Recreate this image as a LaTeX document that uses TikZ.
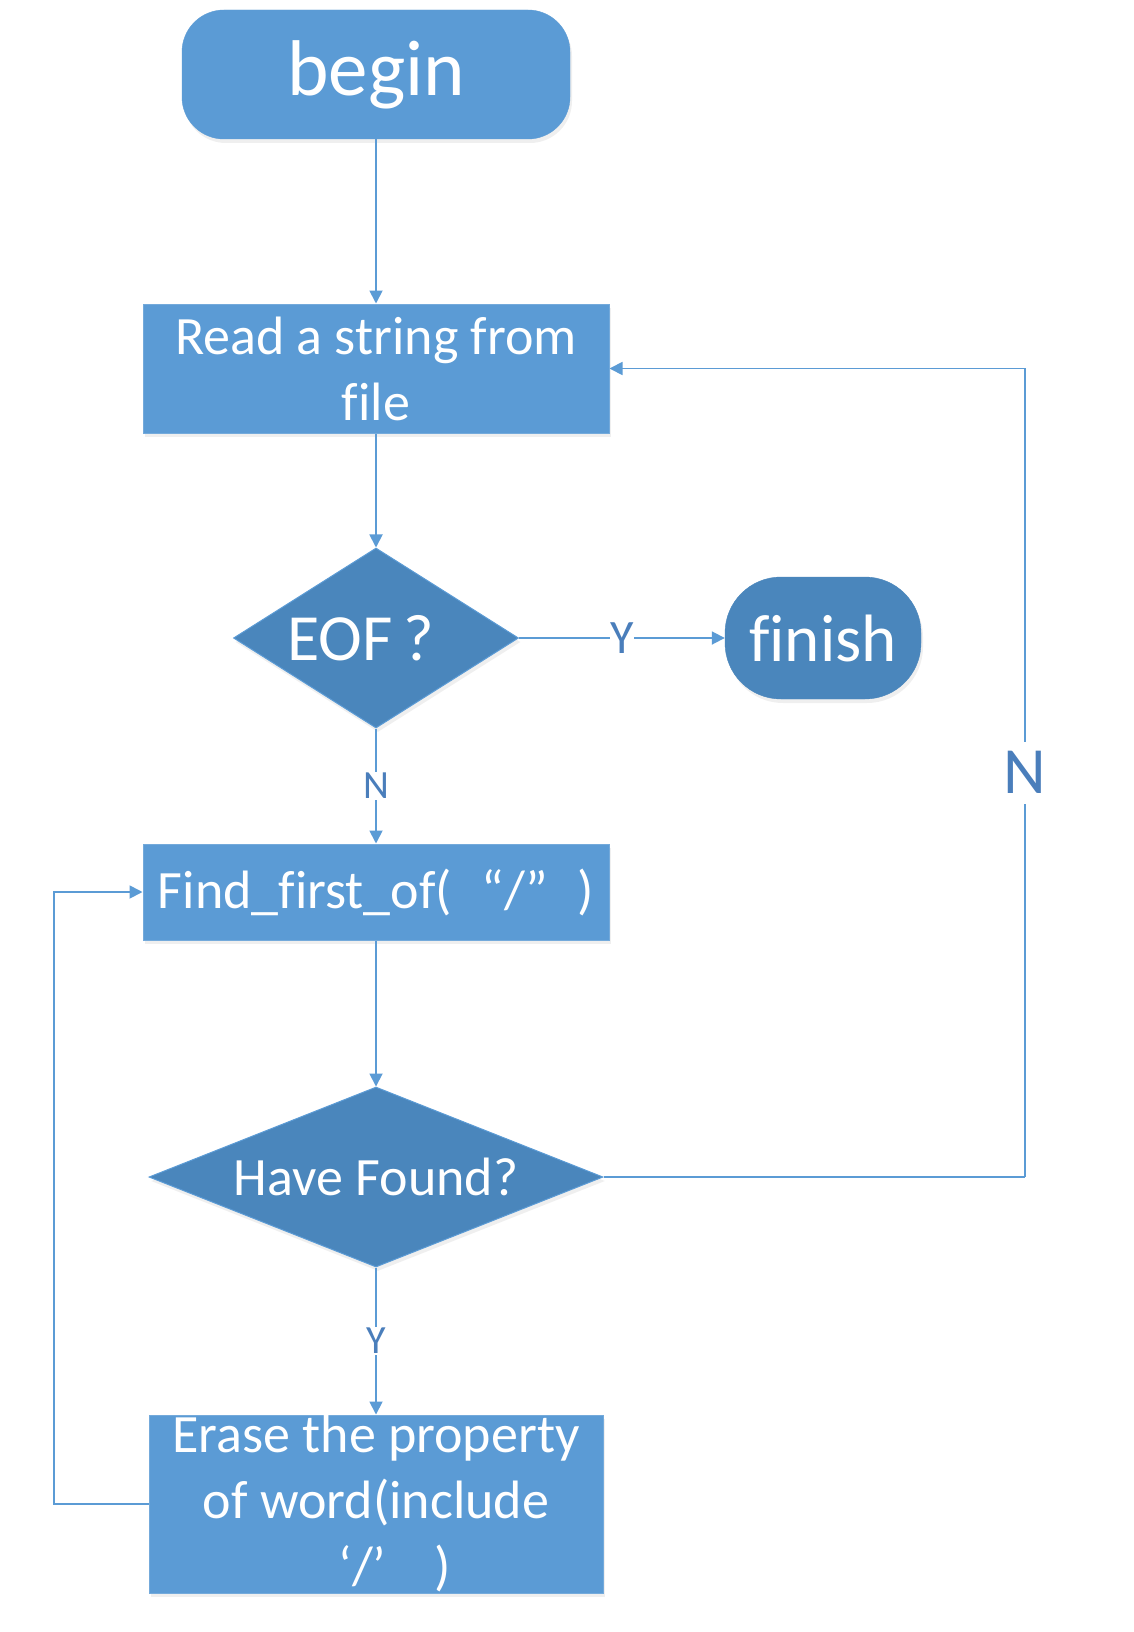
\documentclass[tikz,border=0pt]{standalone}
\usepackage{fontspec}
\setmainfont{Carlito}[Ligatures={NoCommon},RawFeature={-liga}]
\usetikzlibrary{shapes.geometric,arrows.meta,shadows}
\definecolor{boxblue}{HTML}{5B9BD5}
\definecolor{darkblue}{HTML}{4A86BC}
\definecolor{lineblue}{HTML}{5B9BD5}
\definecolor{labelblue}{HTML}{4A7EBB}
\begin{document}
\begin{tikzpicture}[x=1pt,y=-1pt,
  shadowed/.style={drop shadow={opacity=0.12,shadow xshift=2pt,shadow yshift=-4pt}},
  procbox/.style={rectangle,fill=boxblue,draw=boxblue!85!white,line width=1pt,text=white,inner sep=0pt,
    font=\fontsize{54}{66}\selectfont,align=center,shadowed},
  termbox/.style={rectangle,rounded corners=42pt,fill=boxblue,draw=boxblue,text=white,inner sep=0pt,shadowed},
  endbox/.style={rectangle,rounded corners=56pt,fill=darkblue,draw=darkblue,text=white,inner sep=0pt,shadowed},
  decision/.style={diamond,fill=darkblue,draw=boxblue,line width=1pt,text=white,inner sep=0pt,shadowed},
  txt/.style={text=white,inner sep=0pt,align=center,font=\fontsize{54}{66}\selectfont},
  conn/.style={draw=lineblue,line width=1.8pt,-{Triangle[length=13pt,width=13pt]}},
  plain/.style={draw=lineblue,line width=1.8pt},
  lab/.style={fill=white,text=labelblue,inner sep=1pt,font=\fontsize{40}{44}\selectfont},
]
\useasboundingbox[fill=white] (0,0) rectangle (1134,1632);

\node[termbox,minimum width=388pt,minimum height=129pt,font=\fontsize{79}{90}\selectfont] (begin) at (376,74.5) {begin};
\node[procbox,minimum width=466pt,minimum height=129pt] (read) at (376,368.5) {Read a string from\\f\kern0pt ile};
\node[decision,minimum width=285pt,minimum height=180pt,aspect=1.58,font=\fontsize{66}{72}\selectfont] (eof) at (376,638) {EOF\,?\kern0.45em};
\node[endbox,minimum width=196pt,minimum height=122pt,font=\fontsize{67}{72}\selectfont] (finish) at (823,638) {f\kern0pt inish};
\node[procbox,minimum width=466pt,minimum height=96pt] (find) at (376,892) {Find\_f\kern0pt irst\_of(\hspace{0.55em}“/”\hspace{0.55em})};
\node[decision,minimum width=454pt,minimum height=180pt,aspect=2.52,font=\fontsize{54}{60}\selectfont] (have) at (376,1177) {Have Found?};
\node[procbox,minimum width=454pt,minimum height=178pt] (erase) at (376,1504) {};
\node[txt] (erasetext) at (376,1503) {Erase the property\\of word(include\\\hspace{0.7em}‘/’\hspace{0.9em})};

\coordinate (rturn) at (1025,1177);
\coordinate (lturn) at (54,1504);

\draw[conn] (begin) -- (read);
\draw[conn] (read) -- (eof);
\draw[conn] (eof.east) -- node[lab,inner sep=0pt,font=\fontsize{48}{52}\selectfont]{Y} (finish.west);
\draw[conn] (eof.south) -- node[lab]{N} (find.north);
\draw[conn] (find) -- (have);
\draw[conn] (have.south) -- node[lab]{Y} (erase.north);
\draw[plain] (have.east) -- (rturn);
\draw[conn] (rturn) |- node[pos=0.25,lab,inner sep=10pt,font=\fontsize{66}{70}\selectfont]{N} (read.east);
\draw[conn] (erase.west) -- (lturn) |- (find.west);
\end{tikzpicture}
\end{document}
